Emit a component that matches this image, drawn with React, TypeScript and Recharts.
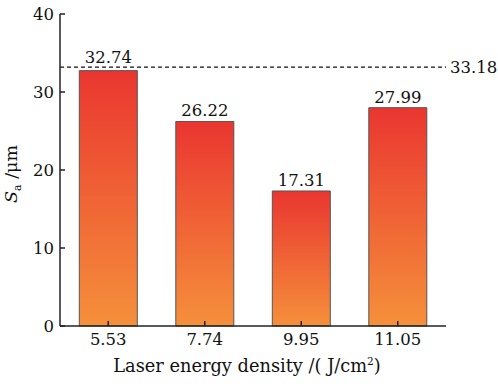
import { Bar, BarChart, LabelList, ReferenceLine, XAxis, YAxis, Label } from "recharts";

const densities = ["5.53", "7.74", "9.95", "11.05"];
const roughness = [32.74, 26.22, 17.31, 27.99];
const yTicks = [0, 10, 20, 30, 40];
const refValue = 33.18;

const FONT = "DejaVu Serif";
const FS = 16.5;

const data = densities.map((d, i) => ({ density: d, sa: roughness[i] }));

function YTitle() {
  return (
    <text
      transform="translate(17,174) rotate(-90)"
      textAnchor="middle"
      fontFamily={FONT}
      fontSize={17.5}
      fill="#111"
    >
      <tspan fontStyle="italic">S</tspan>
      <tspan fontSize={11} dy={4}>a</tspan>
      <tspan dy={-4}> /μm</tspan>
    </text>
  );
}

function XTitle({ viewBox }: any) {
  const cx = viewBox ? viewBox.x + viewBox.width / 2 - 6 : 247;
  return (
    <text x={cx} y={372} textAnchor="middle" fontFamily={FONT} fontSize={17.8} fill="#111">
      Laser energy density /( J/cm
      <tspan fontSize={10.5} dy={-7}>2</tspan>
      <tspan dy={7}>)</tspan>
    </text>
  );
}

// value label above each bar; lifted clear of the dashed line when it would cross it
function ValueLabel(props: any) {
  const { x, y, width, height, value } = props;
  const v = Number(value);
  const perUnit = height / v;
  const refY = y + height - refValue * perUnit;
  let base = y - 5;
  if (base > refY - 4 && base < refY + 14) base = refY - 4;
  return (
    <text x={x + width / 2} y={base} textAnchor="middle" fontFamily={FONT} fontSize={FS} fill="#111">
      {v.toFixed(2)}
    </text>
  );
}

export default function App() {
  return (
    <div style={{ position: "absolute", left: 0, top: 0, background: "#fff" }}>
      <BarChart
        width={498}
        height={384}
        data={data}
        margin={{ top: 14, right: 52, left: 0, bottom: 0 }}
        barCategoryGap="20%"
      >
        <defs>
          <linearGradient id="barFill" x1="0" y1="0" x2="0" y2="1">
            <stop offset="0%" stopColor="#ea3630" />
            <stop offset="100%" stopColor="#f5903b" />
          </linearGradient>
        </defs>
        <XAxis
          dataKey="density"
          height={58}
          stroke="#222"
          strokeWidth={1.5}
          tickSize={-5}
          tickMargin={12}
          tick={{ fontFamily: FONT, fontSize: FS, fill: "#111" }}
        >
          <Label content={<XTitle />} />
        </XAxis>
        <XAxis xAxisId="top" orientation="top" dataKey="density" height={0} tick={false} tickLine={false} stroke="#222" strokeWidth={1.5} />
        <YAxis
          domain={[0, 40]}
          ticks={yTicks}
          width={60}
          stroke="#222"
          strokeWidth={1.5}
          tickSize={-5}
          tickMargin={11}
          tick={{ fontFamily: FONT, fontSize: FS, fill: "#111" }}
        >
          <Label content={<YTitle />} />
        </YAxis>
        <YAxis yAxisId="right" orientation="right" domain={[0, 40]} width={0} tick={false} tickLine={false} stroke="#222" strokeWidth={1.5} />
        <ReferenceLine
          y={refValue}
          stroke="#111"
          strokeWidth={1.2}
          strokeDasharray="4 3"
          label={{ value: refValue.toFixed(2), position: "right", fontFamily: FONT, fontSize: FS, fill: "#111", offset: 4 }}
        />
        <Bar dataKey="sa" fill="url(#barFill)" stroke="#555" strokeWidth={1} isAnimationActive={false}>
          <LabelList dataKey="sa" content={<ValueLabel />} />
        </Bar>
      </BarChart>
    </div>
  );
}
